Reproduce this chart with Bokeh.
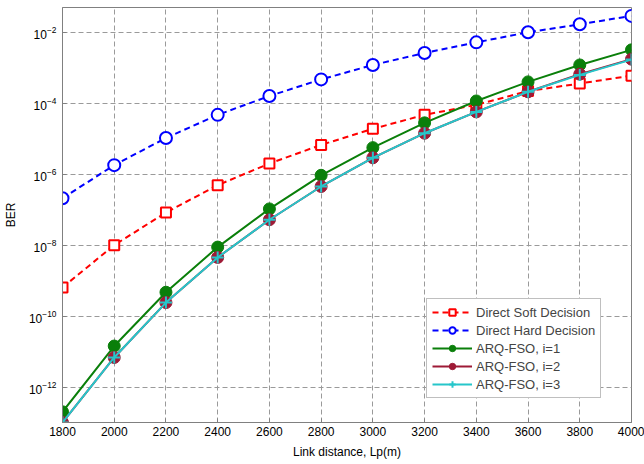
from bokeh.plotting import figure
from bokeh.models import FixedTicker, Legend, LegendItem
from bokeh.embed import file_html
from bokeh.resources import INLINE

distance = [1800, 2000, 2200, 2400, 2600, 2800, 3000, 3200, 3400, 3600, 3800, 4000]
soft_decision = [6.4e-10, 1.0e-8, 8.3e-8, 4.9e-7, 2.0e-6, 6.7e-6, 1.9e-5, 4.7e-5, 9.0e-5, 2.2e-4, 3.6e-4, 6.0e-4]
hard_decision = [2.1e-7, 1.8e-6, 1.05e-5, 4.7e-5, 1.6e-4, 4.7e-4, 1.2e-3, 2.6e-3, 5.2e-3, 1.0e-2, 1.68e-2, 2.9e-2]
arq_i1 = [2.0e-13, 1.43e-11, 4.7e-10, 8.8e-9, 1.05e-7, 9.3e-7, 5.6e-6, 2.8e-5, 1.16e-4, 4.0e-4, 1.2e-3, 3.2e-3]
arq_i2 = [1.0e-13, 6.8e-12, 2.4e-10, 4.5e-9, 5.2e-8, 4.5e-7, 2.9e-6, 1.43e-5, 5.7e-5, 2.1e-4, 6.6e-4, 1.75e-3]
arq_i3 = [1.0e-13, 6.8e-12, 2.4e-10, 4.5e-9, 5.2e-8, 4.5e-7, 2.9e-6, 1.43e-5, 5.7e-5, 2.1e-4, 6.3e-4, 1.7e-3]
x_ticks = [1800, 2000, 2200, 2400, 2600, 2800, 3000, 3200, 3400, 3600, 3800, 4000]
y_ticks = [1e-12, 1e-10, 1e-8, 1e-6, 1e-4, 1e-2]

FONT = "Liberation Sans"

p = figure(width=644, height=464, y_axis_type="log",
           x_range=(1800, 4000), y_range=(1e-13, 5e-2),
           output_backend="svg", toolbar_location=None,
           min_border_left=59, min_border_right=13,
           min_border_top=7, min_border_bottom=42)

p.outline_line_color = "#808080"
p.outline_line_width = 1

for ax in (p.xaxis[0], p.yaxis[0]):
    ax.axis_line_color = "#808080"
    ax.major_tick_line_color = "#808080"
    ax.major_tick_in = 4
    ax.major_tick_out = 0
    ax.minor_tick_line_color = None
    ax.major_label_text_font = FONT
    ax.major_label_text_font_size = "12px"
    ax.major_label_text_color = "black"
    ax.axis_label_text_font = FONT
    ax.axis_label_text_font_size = "12px"
    ax.axis_label_text_font_style = "normal"
    ax.axis_label_text_color = "black"

p.xaxis.ticker = FixedTicker(ticks=x_ticks)
p.yaxis.ticker = FixedTicker(ticks=y_ticks)
p.xaxis.axis_label = "Link distance, Lp(m)"
p.yaxis.axis_label = "BER"
p.xaxis.major_label_standoff = 4
p.xaxis.axis_label_standoff = 6
p.yaxis.major_label_standoff = 6
p.yaxis.axis_label_standoff = 8

for g in (p.xgrid[0], p.ygrid[0]):
    g.grid_line_color = "#9a9a9a"
    g.grid_line_dash = "5 3"
    g.grid_line_width = 1
p.ygrid.ticker = FixedTicker(ticks=y_ticks)
p.xgrid.ticker = FixedTicker(ticks=x_ticks)

RED = "#ff0000"
BLUE = "#0000ff"
GREEN = "#0a7f0a"
MAROON = "#9e1a36"
CYAN = "#26c6ca"

items = []

l1 = p.line(distance, soft_decision, line_color=RED, line_width=2, line_dash="6 4")
s1 = p.scatter(distance, soft_decision, marker="square", size=10, fill_color="white",
               line_color=RED, line_width=2)
items.append(LegendItem(label="Direct Soft Decision", renderers=[l1, s1]))

l2 = p.line(distance, hard_decision, line_color=BLUE, line_width=2, line_dash="6 4")
s2 = p.scatter(distance, hard_decision, marker="circle", size=12, fill_color="white",
               line_color=BLUE, line_width=2)
items.append(LegendItem(label="Direct Hard Decision", renderers=[l2, s2]))

l3 = p.line(distance, arq_i1, line_color=GREEN, line_width=2)
s3 = p.scatter(distance, arq_i1, marker="circle", size=12, fill_color=GREEN,
               line_color=GREEN)
items.append(LegendItem(label="ARQ-FSO, i=1", renderers=[l3, s3]))

l4 = p.line(distance, arq_i2, line_color=MAROON, line_width=2)
s4 = p.scatter(distance, arq_i2, marker="circle", size=12, fill_color=MAROON,
               line_color=MAROON)
items.append(LegendItem(label="ARQ-FSO, i=2", renderers=[l4, s4]))

l5 = p.line(distance, arq_i3, line_color=CYAN, line_width=2)
s5 = p.scatter(distance, arq_i3, marker="cross", size=12, line_color=CYAN, line_width=2)
items.append(LegendItem(label="ARQ-FSO, i=3", renderers=[l5, s5]))

legend = Legend(items=items, location=(364, 24))
legend.label_text_font = FONT
legend.label_text_font_size = "13px"
legend.label_height = 16
legend.glyph_height = 16
legend.glyph_width = 40
legend.spacing = 2
legend.padding = 5
legend.margin = 0
legend.label_standoff = 4
legend.border_line_color = "#808080"
legend.border_line_width = 1
legend.background_fill_color = "white"
legend.background_fill_alpha = 1
p.add_layout(legend, "center")

open("out.html", "w").write(file_html(p, INLINE))
